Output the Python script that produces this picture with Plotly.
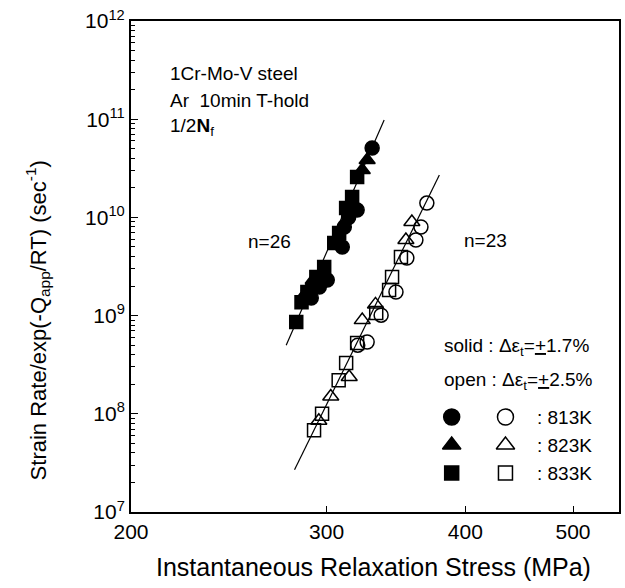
import plotly.graph_objects as go
import numpy as np

# ---- data (stress MPa, normalized strain rate 1/s) ----
solid_813_x = [329.7, 319.6, 311.2, 309.9, 300.4, 295.5, 290.6, 314.0]
solid_813_y = [5.1e10, 1.19e10, 7.98e9, 5.0e9, 2.3e9, 1.95e9, 1.51e9, 1.0e10]
solid_823_x = [326.3, 323.0, 289.4, 291.8, 286.5]
solid_823_y = [3.84e10, 3.04e10, 1.95e9, 2.3e9, 1.62e9]
solid_833_x = [319.6, 316.3, 312.4, 307.9, 304.8, 298.5, 293.7, 288.3, 284.8, 281.7]
solid_833_y = [2.58e10, 1.61e10, 1.25e10, 6.93e9, 5.48e9, 3.12e9, 2.47e9, 1.74e9, 1.37e9, 8.6e8]

open_813_x = [369.3, 364.8, 361.0, 354.3, 346.4, 335.9, 326.3, 320.0]
open_813_y = [1.4e10, 7.98e9, 5.89e9, 3.86e9, 1.74e9, 1.01e9, 5.38e8, 5.0e8]
open_823_x = [358.0, 353.6, 332.0, 323.0, 314.4, 302.6, 295.2]
open_823_y = [8.97e9, 5.89e9, 1.3e9, 9.0e8, 2.37e8, 1.5e8, 8.5e7]
open_833_x = [350.0, 343.6, 341.5, 332.5, 319.6, 312.4, 307.6, 297.2, 292.3]
open_833_y = [3.95e9, 2.47e9, 1.82e9, 1.06e9, 5.26e8, 3.29e8, 2.2e8, 1.0e8, 6.8e7]

fit_solid_x = [275.9, 338.0]
fit_solid_y = [5.0e8, 9.8e10]
fit_open_x = [280.7, 379.0]
fit_open_y = [2.7e7, 2.7e10]

x_ticks = [200, 300, 400, 500]
y_ticks = [1e7, 1e8, 1e9, 1e10, 1e11, 1e12]
y_ticktext = ["10<sup>%d</sup>" % e for e in range(7, 13)]

legend_rows = [": 813K", ": 823K", ": 833K"]
symbols = ["circle", "triangle-up", "square"]
legend_sizes = [16, 16, 14]

FONT = "Liberation Sans, Arial, sans-serif"
W, H = 625, 588
L, R, T, B = 131, 4, 21, 76
PW, PH = W - L - R, H - T - B

def px(xp):
    return (xp - L) / PW

def py(yp):
    return (H - B - yp) / PH

fig = go.Figure()

# fit lines
fig.add_trace(go.Scatter(x=fit_solid_x, y=fit_solid_y, mode="lines",
                         line=dict(color="black", width=1.2), showlegend=False))
fig.add_trace(go.Scatter(x=fit_open_x, y=fit_open_y, mode="lines",
                         line=dict(color="black", width=1.2), showlegend=False))

series = [
    (solid_813_x, solid_813_y, "circle", 14),
    (solid_823_x, solid_823_y, "triangle-up", 14),
    (solid_833_x, solid_833_y, "square", 13),
    (open_813_x, open_813_y, "circle-open", 14),
    (open_823_x, open_823_y, "triangle-up-open", 14),
    (open_833_x, open_833_y, "square-open", 13),
]
for xs, ys, sym, sz in series:
    fig.add_trace(go.Scatter(x=xs, y=ys, mode="markers",
                             marker=dict(symbol=sym, size=sz, color="black",
                                         line=dict(color="black", width=1.5)),
                             showlegend=False, cliponaxis=False))

# legend markers on an overlay linear axis (paper-like)
leg_y = [417, 445, 473]
for i, sym in enumerate(symbols):
    fig.add_trace(go.Scatter(x=[px(453)], y=[py(leg_y[i])], mode="markers",
                             xaxis="x2", yaxis="y2",
                             marker=dict(symbol=sym, size=legend_sizes[i], color="black",
                                         line=dict(color="black", width=1.5)),
                             showlegend=False))
    fig.add_trace(go.Scatter(x=[px(507)], y=[py(leg_y[i])], mode="markers",
                             xaxis="x2", yaxis="y2",
                             marker=dict(symbol=sym + "-open", size=legend_sizes[i], color="black",
                                         line=dict(color="black", width=1.5)),
                             showlegend=False))

ann = []
def text(x, y, s, size=19, xanchor="left", **kw):
    ann.append(dict(x=px(x), y=py(y), xref="paper", yref="paper", text=s,
                    showarrow=False, xanchor=xanchor, yanchor="middle",
                    font=dict(family=FONT, size=size, color="black"), **kw))

text(168, 73, "1Cr-Mo-V steel")
text(168, 100, "Ar  10min T-hold")
text(168, 127, "1/2<b>N</b><sub>f</sub>")
text(246, 241, "n=26")
text(463, 240, "n=23")
text(443, 347, "solid : Δε<sub>t</sub>=<u>+</u>1.7%", size=19)
text(443, 381, "open : Δε<sub>t</sub>=<u>+</u>2.5%", size=19)
for i, s in enumerate(legend_rows):
    text(537, leg_y[i], s, size=19)

# axis titles
ann.append(dict(x=px(374), y=py(567), xref="paper", yref="paper",
                text="Instantaneous Relaxation Stress (MPa)", showarrow=False,
                xanchor="center", yanchor="middle",
                font=dict(family=FONT, size=25, color="black")))
ann.append(dict(x=px(37), y=py(320), xref="paper", yref="paper",
                text="Strain Rate/exp(-Q<sub>app</sub>/RT) (sec<sup>-1</sup>)",
                showarrow=False, textangle=-90, xanchor="center", yanchor="middle",
                font=dict(family=FONT, size=22, color="black")))

fig.update_layout(
    width=W, height=H,
    margin=dict(l=L, r=R, t=T, b=B),
    paper_bgcolor="white", plot_bgcolor="white",
    annotations=ann,
    xaxis=dict(type="log", range=[np.log10(200), np.log10(550)],
               tickvals=x_ticks, ticktext=[str(v) for v in x_ticks],
               ticks="inside", ticklen=6, tickwidth=1.2, tickcolor="black",
               showline=True, linecolor="black", linewidth=2, mirror=True,
               showgrid=False, zeroline=False,
               tickfont=dict(family=FONT, size=21, color="black")),
    yaxis=dict(type="log", range=[7, 12],
               tickvals=y_ticks, ticktext=y_ticktext,
               ticks="inside", ticklen=7, tickwidth=1.2, tickcolor="black",
               minor=dict(ticks="inside", ticklen=4, dtick="D1", tickcolor="black",
                          showgrid=False),
               showline=True, linecolor="black", linewidth=2, mirror=True,
               showgrid=False, zeroline=False,
               tickfont=dict(family=FONT, size=21, color="black")),
    xaxis2=dict(range=[0, 1], overlaying="x", visible=False, showgrid=False),
    yaxis2=dict(range=[0, 1], overlaying="y", visible=False, showgrid=False),
)

fig.write_html("out.html")
